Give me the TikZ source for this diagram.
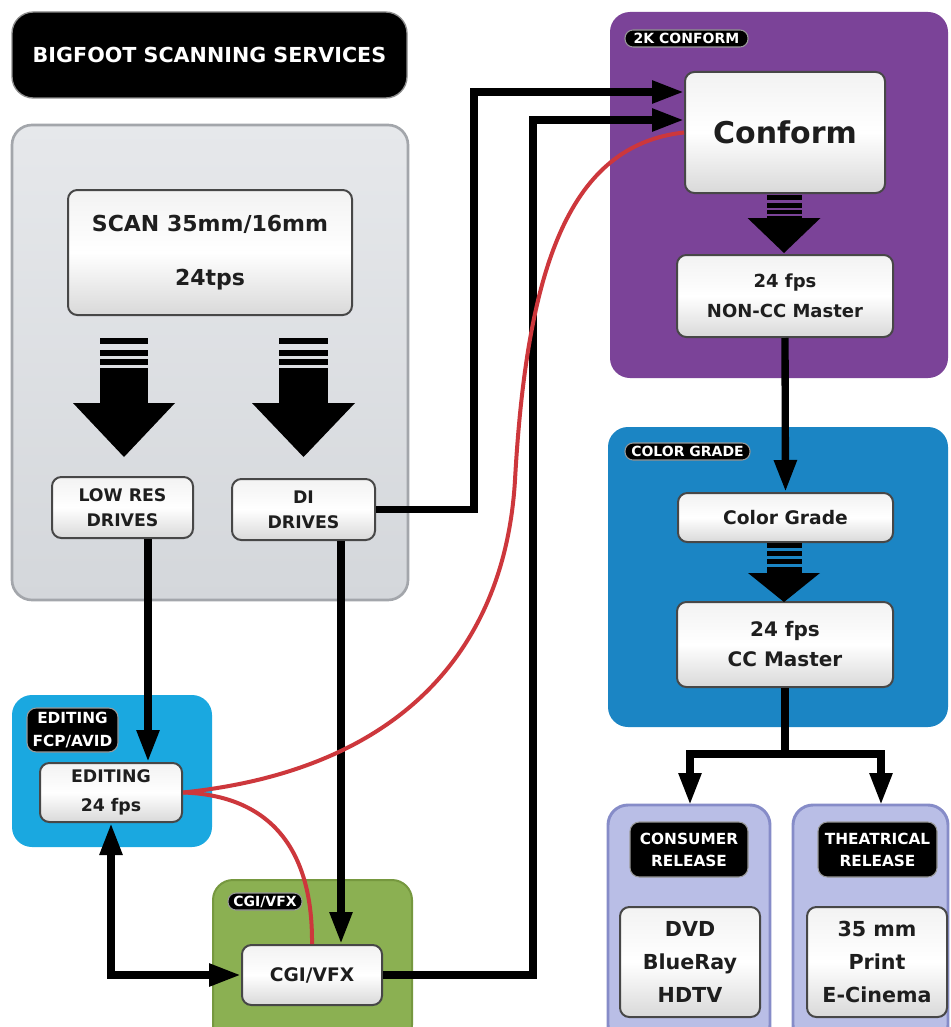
\documentclass[tikz,border=0pt]{standalone}
\usepackage{fontspec}
\setmainfont{DejaVu Sans}
\usetikzlibrary{arrows.meta,calc}

\definecolor{linkred}{HTML}{CD373C}
\definecolor{conformpurple}{HTML}{7B4398}
\definecolor{gradeblue}{HTML}{1B85C4}
\definecolor{editcyan}{HTML}{1AA8E0}
\definecolor{vfxgreen}{HTML}{8BB052}
\definecolor{vfxgreenline}{HTML}{76983F}
\definecolor{releasefill}{HTML}{B9BEE6}
\definecolor{releaseline}{HTML}{868CC8}
\definecolor{scantop}{HTML}{E6E8EB}
\definecolor{scanbottom}{HTML}{D4D7DB}
\definecolor{scanline}{HTML}{A3A6AB}
\definecolor{boxtext}{HTML}{1E1E1E}

% bold text at a given size and line spacing
\newcommand\fs[2]{\fontsize{#1}{#2}\selectfont\bfseries}

% striped block arrow: centre x, half shaft, half head, head top, tip, bars
\newcommand\stripedarrow[6]{%
  \foreach \ya/\yb in {#6} {\fill[black] (#1-#2,\ya) rectangle (#1+#2,\yb);}
  \fill[black] (#1-#3,#4) -- (#1+#3,#4) -- (#1,#5) -- cycle;
}

\tikzset{
  % node spanning the corners (x1,y1) and (x2,y2), in picture units (0.75pt)
  span/.style n args={4}{at={({(#1+#3)/2},{(#2+#4)/2})},
    minimum width={(#3-#1)*0.75pt}, minimum height={(#4-#2)*0.75pt}},
  panel/.style={rectangle, rounded corners=15pt, inner sep=0pt, outer sep=0pt},
  tag/.style={fill=black, draw=black!40, line width=0.8pt, inner sep=0pt,
    text=white, align=center},
  wbox/.style={draw=black!72, line width=1.5pt, rounded corners=7pt,
    top color=black!5, bottom color=black!15, middle color=white,
    inner sep=0pt, text=boxtext, align=center},
  link/.style={draw=black, line width=5.5pt},
  linkto/.style={link, -{Triangle[length=24pt,width=16pt]}},
  linkboth/.style={link, {Triangle[length=24pt,width=16pt]}-{Triangle[length=24pt,width=16pt]}},
  redlink/.style={draw=linkred, line width=3pt},
}

\begin{document}
\begin{tikzpicture}[x=0.75pt,y=-0.75pt]
\path[use as bounding box, fill=white] (0,0) rectangle (950,1027);

% group panels
\node[panel, span={12}{125}{408}{600}, draw=scanline, line width=2pt,
  top color=scantop, bottom color=scanbottom] (scanpanel) {};
\node[panel, span={610}{12}{948}{378}, fill=conformpurple] (conformpanel) {};
\node[panel, span={608}{427}{948}{727}, fill=gradeblue] (gradepanel) {};
\node[panel, span={12}{695}{212}{847}, fill=editcyan] (editpanel) {};
\node[panel, span={213}{880}{412}{1045}, fill=vfxgreen, draw=vfxgreenline,
  line width=1.5pt] (vfxpanel) {};
\node[panel, span={608}{805}{770}{1045}, fill=releasefill, draw=releaseline,
  line width=2.2pt] (consumerpanel) {};
\node[panel, span={793}{805}{948}{1045}, fill=releasefill, draw=releaseline,
  line width=2.2pt] (theatpanel) {};

% title
\node[span={12}{12}{407}{98}, fill=black, draw=black!45, line width=1pt,
  rounded corners=16pt, inner sep=0pt, text=white, font=\fs{15.5}{18}]
  (title) {BIGFOOT SCANNING SERVICES};

% group tags
\node[tag, rounded corners=6pt, span={625}{30}{748}{47}, font=\fs{10.5}{12}]
  (conformtag) {2K CONFORM};
\node[tag, rounded corners=6pt, span={625}{443}{750}{460}, font=\fs{10.5}{12}]
  (gradetag) {COLOR GRADE};
\node[tag, rounded corners=6pt, span={228}{893}{302}{910}, font=\fs{10.5}{12}]
  (vfxtag) {CGI/VFX};
\node[tag, rounded corners=7pt, span={27}{708}{118}{752}, font=\fs{11.5}{17}]
  (edittag) {EDITING\\FCP/AVID};
\node[tag, rounded corners=7pt, span={630}{822}{748}{877}, font=\fs{11.5}{16.5}]
  (consumertag) {CONSUMER\\RELEASE};
\node[tag, rounded corners=7pt, span={818}{822}{937}{877}, font=\fs{11.5}{16.5}]
  (theattag) {THEATRICAL\\RELEASE};

% process boxes
\node[wbox, span={68}{190}{352}{315}, font=\fs{16.5}{41}] (scan)
  {SCAN 35mm/16mm\\24tps};
\node[wbox, span={52}{477}{193}{538}, font=\fs{13}{19}] (lowres) {LOW RES\\DRIVES};
\node[wbox, span={232}{479}{375}{540}, font=\fs{13}{19}] (di) {DI\\DRIVES};
\node[wbox, span={40}{763}{182}{822}, font=\fs{13}{22}] (editing) {EDITING\\24 fps};
\node[wbox, span={242}{945}{382}{1005}, font=\fs{14}{17}] (cgi) {CGI/VFX};
\node[wbox, span={685}{72}{885}{193}, font=\fs{22.5}{26}] (conform) {Conform};
\node[wbox, span={677}{255}{893}{337}, font=\fs{13.5}{22.5}] (noncc)
  {24 fps\\NON-CC Master};
\node[wbox, span={678}{493}{893}{542}, font=\fs{14}{17}] (cgrade) {Color Grade};
\node[wbox, span={677}{602}{893}{687}, font=\fs{15}{22.5}] (ccmaster)
  {24 fps\\CC Master};
\node[wbox, span={620}{907}{760}{1017}, font=\fs{15.5}{25}] (consumer)
  {DVD\\BlueRay\\HDTV};
\node[wbox, span={807}{907}{947}{1017}, font=\fs{15.5}{25}] (theatrical)
  {35 mm\\Print\\E-Cinema};

% striped block arrows
\stripedarrow{124}{24}{51}{403}{457}{338/344,350/356,359/365,368/403.5}
\stripedarrow{303.5}{24.5}{51.5}{403}{457}{338/344,350/356,359/365,368/403.5}
\stripedarrow{784}{17.5}{36.5}{218}{253}{195/200,203/208,210/214,216/218.5}
\stripedarrow{784}{17.5}{36}{573}{602}{543/548,551/556,559/564,567/573.5}

% routing points
\coordinate (lrx) at (148,0);
\coordinate (dix) at (341,0);
\coordinate (j1) at (474,92);
\coordinate (j2) at (533,120);
\coordinate (sL) at (690,754);
\coordinate (sR) at (881,754);

% black connectors
\draw[linkto] (lowres.south -| lrx) -- (editing.north -| lrx);
\draw[linkto] (di.south -| dix) -- (cgi.north -| dix);
\draw[linkto] (di.east) -| (j1) -- (j1 -| conform.west);
\draw[linkto] (cgi.east) -| (j2) -- (j2 -| conform.west);
\draw[linkboth] (editing.south) |- (cgi.west);
\draw[linkto] (noncc.south) -- (cgrade.north);
\draw[linkto] (ccmaster.south) |- (sL) -- (sL |- consumerpanel.north);
\draw[linkto] (ccmaster.south) |- (sR) -- (sR |- theatpanel.north);

% red links
\draw[redlink] (editing.east) .. controls (400,770) and (505,650) .. (515,480)
  .. controls (527,265) and (570,145) .. (conform.west);
\draw[redlink] (editing.east) .. controls (262,795) and (313,840) .. (cgi.north);
\end{tikzpicture}
\end{document}
